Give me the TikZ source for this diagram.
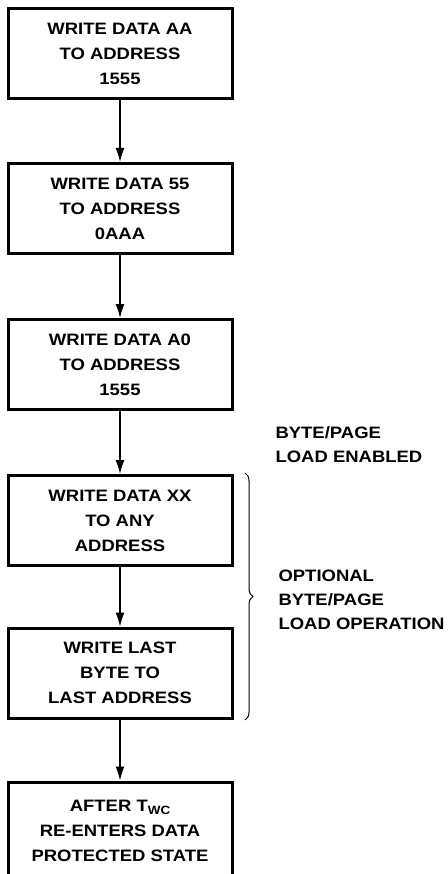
\documentclass[tikz,border=0pt]{standalone}
\usepackage{fontspec}
\setmainfont{Liberation Sans}[FakeStretch=1.12]
\usetikzlibrary{arrows.meta,decorations.pathreplacing}

\tikzset{
    stepbox/.style={draw, line width=3pt, minimum width=224pt, minimum height=90pt,
        align=center, font=\fontsize{16.5}{25}\selectfont\bfseries},
    flow/.style={line width=1.4pt, -{Latex[length=14pt,width=9pt]}},
    sidenote/.style={anchor=west, align=left, font=\fontsize{16.5}{24}\selectfont\bfseries}
}

\begin{document}
\begin{tikzpicture}[x=1pt,y=-1pt]

    \useasboundingbox (0,0) rectangle (447,874);

    \node[stepbox] (aa) at (120,54) {WRITE DATA AA\\TO ADDRESS\\1555};
    \node[stepbox] (fivefive) at (120,208.5) {WRITE DATA 55\\TO ADDRESS\\0AAA};
    \node[stepbox] (azero) at (120,364.5) {WRITE DATA A0\\TO ADDRESS\\1555};
    \node[stepbox] (xx) at (120,520.5) {WRITE DATA XX\\TO ANY\\ADDRESS};
    \node[stepbox] (last) at (120,673) {WRITE LAST\\BYTE TO\\LAST ADDRESS};
    \node[stepbox, minimum height=98pt] (twc) at (120,831)
        {AFTER T\raisebox{-0.35ex}{\fontsize{12}{12}\selectfont WC}\\RE-ENTERS DATA\\PROTECTED STATE};

    \draw[flow] (aa) -- (fivefive);
    \draw[flow] (fivefive) -- (azero);
    \draw[flow] (azero) -- (xx);
    \draw[flow] (xx) -- (last);
    \draw[flow] (last) -- (twc);

    % side notes
    \node[sidenote] (enabled) at (272,445) {BYTE/PAGE\\LOAD ENABLED};

    \coordinate (bracetop) at (245,473);
    \coordinate (bracebot) at (245,720);
    \draw[line width=1pt, decorate, decoration={brace, amplitude=8pt}]
        (bracetop) -- (bracebot);

    \node[sidenote] (optional) at (275,600) {OPTIONAL\\BYTE/PAGE\\LOAD OPERATION};

\end{tikzpicture}
\end{document}
